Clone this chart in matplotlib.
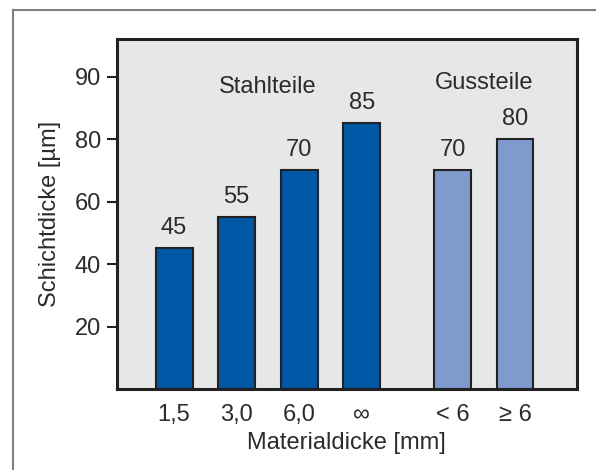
import matplotlib.pyplot as plt
from matplotlib.lines import Line2D

# Schichtdicken nach Materialdicke
steel_labels = ['1,5', '3,0', '6,0', '∞']
steel_values = [45, 55, 70, 85]
cast_labels = ['< 6', '≥ 6']
cast_values = [70, 80]
ytick_values = [20, 40, 60, 80, 100]
ytick_labels = ['20', '40', '60', '80', '90']

plt.rcParams['font.family'] = ['Liberation Sans', 'DejaVu Sans']
txt = '#2b2b2b'
dark_blue = '#0057a5'
light_blue = '#7f9acd'
fs = 17

fig = plt.figure(figsize=(5.96, 4.7), dpi=100)
ax = fig.add_axes([0.1955, 0.1723, 0.7725, 0.7447])
ax.set_facecolor('#e6e7e9')

steel_x = [0, 1, 2, 3]
cast_x = [4.45, 5.45]
w = 0.59
ax.bar(steel_x, steel_values, width=w, color=dark_blue, edgecolor='#222222', linewidth=1.5, zorder=3)
ax.bar(cast_x, cast_values, width=w, color=light_blue, edgecolor='#222222', linewidth=1.5, zorder=3)

for x, v in zip(steel_x + cast_x, steel_values + cast_values):
    ax.text(x, v + 3.0, str(v), ha='center', va='bottom', fontsize=fs, color=txt)

ax.text(1.5, 96.5, 'Stahlteile', ha='center', va='center', fontsize=fs, color=txt)
ax.text(4.95, 98, 'Gussteile', ha='center', va='center', fontsize=fs, color=txt)

ax.set_xlim(-0.92, 6.44)
ax.set_ylim(0, 112)
ax.set_xticks(steel_x + cast_x)
ax.set_xticklabels(steel_labels + cast_labels, fontsize=fs, color=txt)
ax.set_yticks(ytick_values)
ax.set_yticklabels(ytick_labels, fontsize=fs, color=txt)
ax.tick_params(axis='x', length=0, pad=11)
ax.tick_params(axis='y', length=7, width=1.5, color='#222222', pad=4)

ax.set_xlabel('Materialdicke [mm]', fontsize=fs, color=txt, labelpad=4)
ax.set_ylabel('Schichtdicke [µm]', fontsize=fs, color=txt, labelpad=10)

for s in ax.spines.values():
    s.set_linewidth(2.2)
    s.set_color('#222222')

# grauer Rahmen oben und links
x0, y0 = 12.5 / 596, 1 - 9.5 / 470
fig.add_artist(Line2D([x0, 1.0], [y0, y0], color='#808080', lw=1.5, transform=fig.transFigure))
fig.add_artist(Line2D([x0, x0], [0.0, y0], color='#808080', lw=1.5, transform=fig.transFigure))

fig.savefig('out.png', dpi=100)
